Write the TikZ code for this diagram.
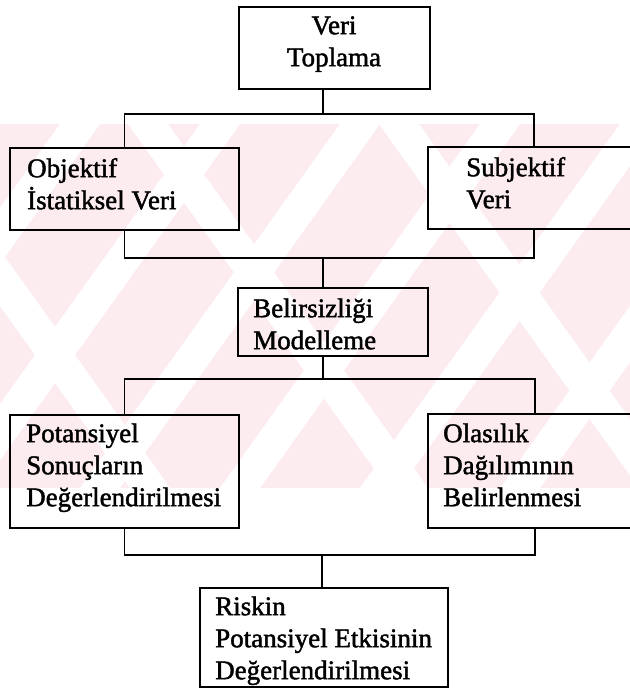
\documentclass[tikz,border=0pt]{standalone}
\usepackage{fontspec}
\newfontfamily\inkfont{Liberation Serif}[FakeBold=1.6]
\definecolor{wmpink}{RGB}{253,236,239}
\begin{document}
\begin{tikzpicture}[x=1pt,y=-1pt,
  frame/.style={draw=black, line width=1.8pt, inner sep=0pt, outer sep=0pt, anchor=north west},
  lbl/.style={inner sep=0pt, anchor=north west, align=left,
    font=\inkfont\fontsize{27}{32}\selectfont},
  link/.style={draw=black, line width=1.8pt, line join=miter}]
\useasboundingbox (0,0) rectangle (630,689);
\clip (0,0) rectangle (630,689);
\fill[white] (0,0) rectangle (630,689);

% pale background watermark: a band crossed by diagonal stripes
\begin{scope}
  \clip (0,124) rectangle (630,488);
  \fill[wmpink] (0,124) rectangle (630,488);
  \foreach \t in {80,220,360,500,640,780}
    \fill[white] (\t-20,124) -- (\t+20,124) -- (\t+20-260,488) -- (\t-20-260,488) -- cycle;
  \foreach \t in {-110,148,399,650}
    \fill[white] (\t-20,124) -- (\t+20,124) -- (\t+20+260,488) -- (\t-20+260,488) -- cycle;
\end{scope}

% boxes
\node[frame, minimum width=191pt, minimum height=82pt]  (top)  at (239,7)   {};
\node[frame, minimum width=229pt, minimum height=82pt]  (obj)  at (10,148)  {};
\node[frame, minimum width=212pt, minimum height=82pt]  (subj) at (428,147) {};
\node[frame, minimum width=190pt, minimum height=68pt]  (bel)  at (238,288) {};
\node[frame, minimum width=229pt, minimum height=113pt] (pot)  at (10,415)  {};
\node[frame, minimum width=214pt, minimum height=114pt] (ola)  at (428,414) {};
\node[frame, minimum width=248pt, minimum height=99pt]  (risk) at (200,588) {};

% texts
\node[lbl, anchor=north, align=center] (topT) at (334,9)
  {\rule{0pt}{25pt}Veri\\Toplama};
\node[lbl] (objT)  at (27,152)  {\rule{0pt}{25pt}Objektif\\İstatiksel Veri};
\node[lbl] (subjT) at (466,151) {\rule{0pt}{25pt}Subjektif\\Veri};
\node[lbl] (belT)  at (253,292) {\rule{0pt}{25pt}Belirsizliği\\Modelleme};
\node[lbl] (potT)  at (26,417)  {\rule{0pt}{25pt}Potansiyel\\Sonuçların\\Değerlendirilmesi};
\node[lbl] (olaT)  at (443,417) {\rule{0pt}{25pt}Olasılık\\Dağılımının\\Belirlenmesi};
\node[lbl] (riskT) at (215,590) {\rule{0pt}{25pt}Riskin\\Potansiyel Etkisinin\\Değerlendirilmesi};

% junctions of the connectors
\coordinate (s1) at (323,114);
\coordinate (s2) at (323,258);
\coordinate (s3) at (323,379);
\coordinate (s4) at (322,555);

% connectors
\draw[link] (top.south -| s1) -- (s1);
\draw[link] (obj.north) |- (s1) -| (subj.north);
\draw[link] (obj.south) |- (s2) -| (subj.south);
\draw[link] (s2) -- (bel.north -| s2);
\draw[link] (bel.south -| s3) -- (s3);
\draw[link] (pot.north) |- (s3) -| (ola.north);
\draw[link] (pot.south) |- (s4) -| (ola.south);
\draw[link] (s4) -- (risk.north -| s4);
\end{tikzpicture}
\end{document}
